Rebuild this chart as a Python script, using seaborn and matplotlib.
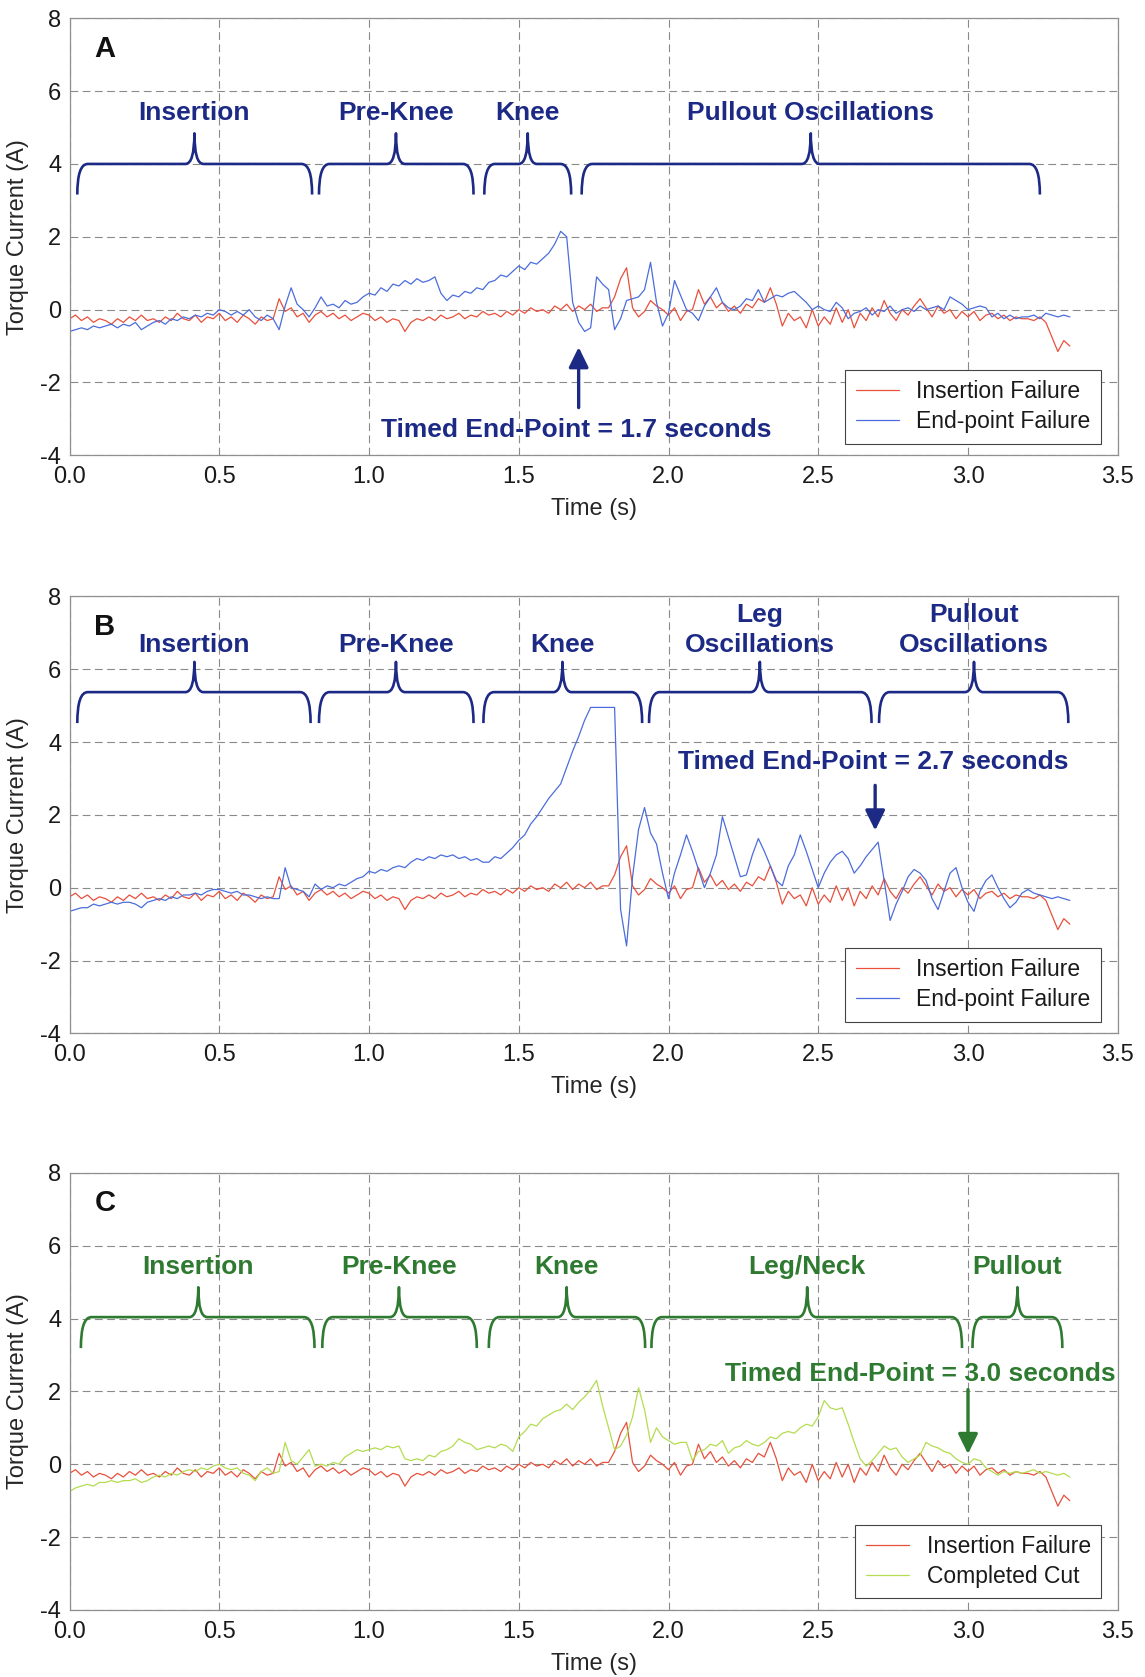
import numpy as np
import pandas as pd
import matplotlib
matplotlib.use("Agg")
import matplotlib.pyplot as plt
from matplotlib.path import Path
from matplotlib.patches import PathPatch
from matplotlib.ticker import FormatStrFormatter, MultipleLocator
import seaborn as sns

# ---------------------------------------------------------------------------
# Torque current traces, sampled every 20 ms (A)
# ---------------------------------------------------------------------------
SAMPLE_DT = 0.02

insertion_failure = [
    -0.25, -0.15, -0.30, -0.20, -0.35, -0.25, -0.30, -0.40, -0.25, -0.35,
    -0.20, -0.30, -0.15, -0.30, -0.25, -0.35, -0.20, -0.30, -0.10, -0.25,
    -0.30, -0.15, -0.35, -0.20, -0.25, -0.10, -0.30, -0.20, -0.35, -0.15,
    -0.25, -0.40, -0.20, -0.30, -0.25, 0.30, -0.05, 0.05, -0.20, -0.10,
    -0.35, -0.15, -0.05, -0.20, -0.10, -0.25, -0.15, -0.30, -0.20, -0.10,
    -0.15, -0.30, -0.20, -0.35, -0.25, -0.30, -0.60, -0.35, -0.25, -0.30,
    -0.20, -0.30, -0.15, -0.25, -0.20, -0.10, -0.25, -0.15, -0.20, -0.05,
    -0.15, -0.10, -0.20, -0.05, -0.15, 0.00, -0.10, 0.05, -0.05, 0.00,
    -0.10, 0.10, 0.00, 0.15, -0.05, 0.10, 0.00, 0.15, -0.05, 0.05,
    0.05, 0.35, 0.85, 1.15, 0.05, -0.20, -0.05, 0.25, 0.10, 0.00,
    -0.15, 0.05, -0.30, -0.05, 0.00, 0.55, 0.15, 0.35, 0.05, 0.20,
    -0.05, 0.10, -0.10, 0.15, 0.05, 0.30, 0.20, 0.60, 0.15, -0.45,
    -0.10, -0.30, -0.20, -0.50, 0.00, -0.45, -0.20, -0.40, 0.05, -0.35,
    0.00, -0.50, -0.10, -0.30, 0.05, -0.20, 0.25, -0.10, -0.30, 0.00,
    -0.15, 0.10, 0.30, 0.05, -0.20, 0.10, -0.10, 0.00, -0.25, -0.05,
    -0.20, -0.05, -0.30, -0.15, -0.10, -0.25, -0.15, -0.30, -0.20, -0.25,
    -0.25, -0.30, -0.20, -0.35, -0.75, -1.15, -0.85, -1.00,
]

endpoint_failure_a = [
    -0.60, -0.55, -0.50, -0.55, -0.45, -0.50, -0.45, -0.40, -0.50, -0.40,
    -0.45, -0.35, -0.55, -0.45, -0.35, -0.30, -0.40, -0.25, -0.30, -0.20,
    -0.25, -0.15, -0.20, -0.10, -0.15, 0.00, -0.05, -0.15, -0.05, -0.15,
    0.00, -0.20, -0.30, -0.15, -0.25, -0.55, 0.10, 0.60, 0.15, 0.00,
    -0.20, 0.05, 0.35, 0.10, 0.15, 0.05, 0.25, 0.15, 0.20, 0.35,
    0.45, 0.40, 0.60, 0.50, 0.70, 0.65, 0.80, 0.70, 0.85, 0.75,
    0.80, 0.90, 0.45, 0.25, 0.40, 0.35, 0.50, 0.45, 0.60, 0.55,
    0.75, 0.80, 0.95, 0.90, 1.05, 1.20, 1.10, 1.30, 1.25, 1.40,
    1.55, 1.80, 2.15, 2.00, 0.20, -0.35, -0.60, -0.50, 0.90, 0.70,
    0.55, -0.55, -0.25, 0.25, 0.30, 0.35, 0.55, 1.30, 0.20, -0.45,
    -0.10, 0.80, 0.40, 0.00, -0.10, -0.30, 0.10, 0.35, 0.60, 0.20,
    0.05, 0.00, 0.10, 0.30, 0.25, 0.55, 0.20, 0.30, 0.40, 0.35,
    0.45, 0.50, 0.35, 0.20, 0.00, 0.10, 0.00, -0.05, 0.20, 0.05,
    -0.25, -0.10, -0.05, 0.05, -0.15, 0.00, -0.05, 0.10, -0.10, 0.00,
    0.05, -0.05, 0.10, 0.00, 0.05, 0.10, 0.00, 0.35, 0.25, 0.15,
    0.00, 0.05, 0.10, 0.05, -0.20, -0.10, -0.25, -0.15, -0.25, -0.20,
    -0.20, -0.15, -0.25, -0.10, -0.15, -0.20, -0.15, -0.20,
]

endpoint_failure_b = [
    -0.65, -0.60, -0.55, -0.55, -0.45, -0.50, -0.45, -0.40, -0.45, -0.40,
    -0.40, -0.45, -0.55, -0.40, -0.35, -0.30, -0.35, -0.25, -0.30, -0.20,
    -0.20, -0.15, -0.20, -0.10, -0.05, -0.05, -0.10, -0.15, -0.10, -0.20,
    -0.20, -0.25, -0.30, -0.25, -0.30, -0.30, 0.55, 0.00, -0.05, -0.10,
    -0.25, 0.10, -0.05, 0.05, 0.00, 0.10, 0.05, 0.15, 0.25, 0.30,
    0.45, 0.40, 0.50, 0.45, 0.55, 0.60, 0.55, 0.70, 0.80, 0.75,
    0.85, 0.80, 0.90, 0.85, 0.90, 0.80, 0.85, 0.75, 0.80, 0.70,
    0.70, 0.85, 0.80, 0.95, 1.10, 1.30, 1.45, 1.75, 1.95, 2.20,
    2.45, 2.65, 2.85, 3.30, 3.75, 4.15, 4.60, 4.95, 4.95, 4.95,
    4.95, 4.95, -0.60, -1.60, 0.30, 1.60, 2.20, 1.50, 1.20, 0.40,
    -0.30, 0.40, 0.90, 1.45, 1.00, 0.50, 0.00, 0.40, 0.90, 1.95,
    1.40, 0.85, 0.30, 0.35, 0.90, 1.35, 1.00, 0.60, 0.20, 0.05,
    0.60, 0.90, 1.45, 1.00, 0.50, 0.00, 0.40, 0.70, 0.90, 1.00,
    0.80, 0.40, 0.60, 0.85, 1.05, 1.25, 0.20, -0.90, -0.45, -0.10,
    0.30, 0.50, 0.40, 0.20, -0.30, -0.60, -0.10, 0.40, 0.55, 0.00,
    -0.40, -0.65, -0.10, 0.20, 0.35, 0.00, -0.30, -0.55, -0.40, -0.15,
    -0.05, -0.15, -0.20, -0.25, -0.30, -0.25, -0.30, -0.35,
]

completed_cut = [
    -0.75, -0.65, -0.60, -0.55, -0.60, -0.50, -0.50, -0.45, -0.50, -0.45,
    -0.45, -0.40, -0.50, -0.45, -0.35, -0.30, -0.35, -0.25, -0.30, -0.20,
    -0.15, -0.20, -0.10, -0.15, -0.05, 0.00, -0.10, -0.15, -0.10, -0.25,
    -0.30, -0.45, -0.20, -0.10, -0.25, -0.20, 0.60, 0.10, 0.00, 0.20,
    0.40, -0.05, 0.00, -0.05, 0.05, 0.00, 0.20, 0.30, 0.40, 0.35,
    0.40, 0.45, 0.40, 0.50, 0.45, 0.50, 0.15, 0.10, 0.15, 0.10,
    0.25, 0.20, 0.35, 0.40, 0.50, 0.70, 0.60, 0.55, 0.40, 0.45,
    0.50, 0.45, 0.55, 0.50, 0.35, 0.75, 0.90, 1.10, 1.05, 1.25,
    1.35, 1.45, 1.50, 1.65, 1.50, 1.70, 1.85, 2.05, 2.30, 1.60,
    1.00, 0.40, 0.50, 0.80, 1.30, 2.10, 1.50, 0.60, 1.00, 0.75,
    0.65, 0.55, 0.60, 0.60, 0.10, 0.35, 0.40, 0.55, 0.50, 0.65,
    0.30, 0.45, 0.50, 0.65, 0.55, 0.50, 0.60, 0.75, 0.70, 0.85,
    0.90, 0.85, 1.00, 1.10, 1.05, 1.30, 1.75, 1.55, 1.50, 1.55,
    1.10, 0.60, 0.15, -0.05, 0.10, 0.30, 0.50, 0.40, 0.45, 0.20,
    0.05, 0.15, 0.25, 0.60, 0.50, 0.45, 0.35, 0.30, 0.15, 0.05,
    0.00, 0.15, 0.10, -0.10, -0.20, -0.30, -0.20, -0.25, -0.20, -0.25,
    -0.20, -0.15, -0.25, -0.20, -0.25, -0.30, -0.25, -0.35,
]

time_s = np.arange(len(insertion_failure)) * SAMPLE_DT

# Cutting phases: (label lines, start, end, apex) in seconds
phases_a = [(["Insertion"], 0.026, 0.810, 0.417),
            (["Pre-Knee"], 0.833, 1.349, 1.090),
            (["Knee"], 1.385, 1.675, 1.530),
            (["Pullout Oscillations"], 1.710, 3.240, 2.475)]
phases_b = [(["Insertion"], 0.026, 0.805, 0.417),
            (["Pre-Knee"], 0.833, 1.349, 1.090),
            (["Knee"], 1.382, 1.912, 1.646),
            (["Leg", "Oscillations"], 1.935, 2.678, 2.305),
            (["Pullout", "Oscillations"], 2.703, 3.335, 3.020)]
phases_c = [(["Insertion"], 0.038, 0.818, 0.430),
            (["Pre-Knee"], 0.844, 1.360, 1.100),
            (["Knee"], 1.400, 1.922, 1.660),
            (["Leg/Neck"], 1.943, 2.980, 2.463),
            (["Pullout"], 3.015, 3.315, 3.165)]

# Timed end-points (s)
endpoint_a = 1.7
endpoint_b = 2.7
endpoint_c = 3.0

NAVY = "#1c2a86"
GREEN = "#2e7a30"
RED = "#e8503c"
BLUE = "#4b6ddb"
LIME = "#b4dc50"

sns.set_theme(style="white")
plt.rcParams["font.family"] = ["Liberation Sans", "DejaVu Sans"]
plt.rcParams["text.color"] = "#1a1a1a"


def draw_brace(ax, x0, x1, xm, y_end, y_flat, y_tip, color):
    ce, ct = 0.035, 0.030
    verts = [(x0, y_end), (x0, y_flat), (x0 + ce, y_flat),
             (xm - ct, y_flat),
             (xm, y_flat), (xm, y_tip),
             (xm, y_flat), (xm + ct, y_flat),
             (x1 - ce, y_flat),
             (x1, y_flat), (x1, y_end)]
    codes = [Path.MOVETO, Path.CURVE3, Path.CURVE3,
             Path.LINETO,
             Path.CURVE3, Path.CURVE3,
             Path.CURVE3, Path.CURVE3,
             Path.LINETO,
             Path.CURVE3, Path.CURVE3]
    ax.add_patch(PathPatch(Path(verts, codes), facecolor="none",
                           edgecolor=color, linewidth=1.9,
                           capstyle="butt", joinstyle="round"))


def style_axes(ax):
    ax.set_xlim(0, 3.5)
    ax.set_ylim(-4, 8)
    ax.xaxis.set_major_locator(MultipleLocator(0.5))
    ax.yaxis.set_major_locator(MultipleLocator(2))
    ax.xaxis.set_major_formatter(FormatStrFormatter("%.1f"))
    ax.yaxis.set_major_formatter(FormatStrFormatter("%d"))
    ax.grid(True, linestyle=(0, (7, 4)), color="#8a8a8a", linewidth=0.8)
    ax.set_axisbelow(True)
    ax.tick_params(axis="both", length=0, labelsize=17, colors="#1a1a1a")
    ax.tick_params(axis="x", pad=8)
    ax.tick_params(axis="y", pad=6)
    for sp in ax.spines.values():
        sp.set_color("#8f8f8f")
        sp.set_linewidth(0.9)
    ax.set_xlabel("Time (s)", fontsize=17, labelpad=7)
    ax.set_ylabel("Torque Current (A)", fontsize=17, labelpad=8)


def draw_panel(ax, letter, second, second_label, second_color, phases,
               brace_y, label_y, color, endpoint, end_text_xy, arrow_y,
               arrow_x):
    sns.lineplot(x=time_s, y=insertion_failure, ax=ax, color=RED,
                 linewidth=0.9, label="Insertion Failure",
                 estimator=None, sort=False)
    sns.lineplot(x=time_s, y=second, ax=ax, color=second_color,
                 linewidth=0.9, label=second_label,
                 estimator=None, sort=False)
    style_axes(ax)

    y_end, y_flat, y_tip = brace_y
    for lines, x0, x1, xm in phases:
        draw_brace(ax, x0, x1, xm, y_end, y_flat, y_tip, color)
        for k, line in enumerate(lines):
            y = label_y + (len(lines) - 1 - k) * 0.83
            ax.text(xm, y, line, ha="center", va="baseline", fontsize=19,
                    fontweight="bold", color=color)

    ax.text(0.118, 7.17, letter, ha="center", va="center", fontsize=21,
            fontweight="bold", color="#111111")

    ax.text(end_text_xy[0], end_text_xy[1],
            f"Timed End-Point = {endpoint:.1f} seconds",
            ha="center", va="baseline", fontsize=19, fontweight="bold",
            color=color)
    ax.annotate("", xy=(arrow_x, arrow_y[1]), xytext=(arrow_x, arrow_y[0]),
                arrowprops=dict(arrowstyle="-|>,head_length=0.55,head_width=0.27",
                                color=color, lw=2.4, mutation_scale=22,
                                shrinkA=0, shrinkB=0))

    leg = ax.legend(loc="lower right", bbox_to_anchor=(0.984, 0.027),
                    borderaxespad=0, frameon=True, fancybox=False,
                    fontsize=16.5, handlelength=1.9, handletextpad=0.75,
                    labelspacing=0.3, borderpad=0.45)
    leg.get_frame().set_edgecolor("#444444")
    leg.get_frame().set_linewidth(0.8)
    leg.get_frame().set_alpha(1)
    for h in leg.get_lines():
        h.set_linewidth(0.9)


fig = plt.figure(figsize=(11.45, 16.77), dpi=100)
left, width, height = 0.0607, 0.9155, 0.2606
ax_a = fig.add_axes([left, 0.7285, width, height])
ax_b = fig.add_axes([left, 0.3838, width, height])
ax_c = fig.add_axes([left, 0.0400, width, height])

draw_panel(ax_a, "A", endpoint_failure_a, "End-point Failure", BLUE,
           phases_a, (3.16, 4.00, 4.84), 5.20, NAVY,
           endpoint_a, (1.692, -3.50), (-2.69, -1.03), endpoint_a)
draw_panel(ax_b, "B", endpoint_failure_b, "End-point Failure", BLUE,
           phases_b, (4.52, 5.37, 6.20), 6.47, NAVY,
           endpoint_b, (2.684, 3.27), (2.81, 1.57), endpoint_b - 0.01)
draw_panel(ax_c, "C", completed_cut, "Completed Cut", LIME,
           phases_c, (3.19, 4.04, 4.86), 5.23, GREEN,
           endpoint_c, (2.842, 2.29), (2.05, 0.28), endpoint_c)

fig.savefig("out.png", dpi=100, facecolor="white")
